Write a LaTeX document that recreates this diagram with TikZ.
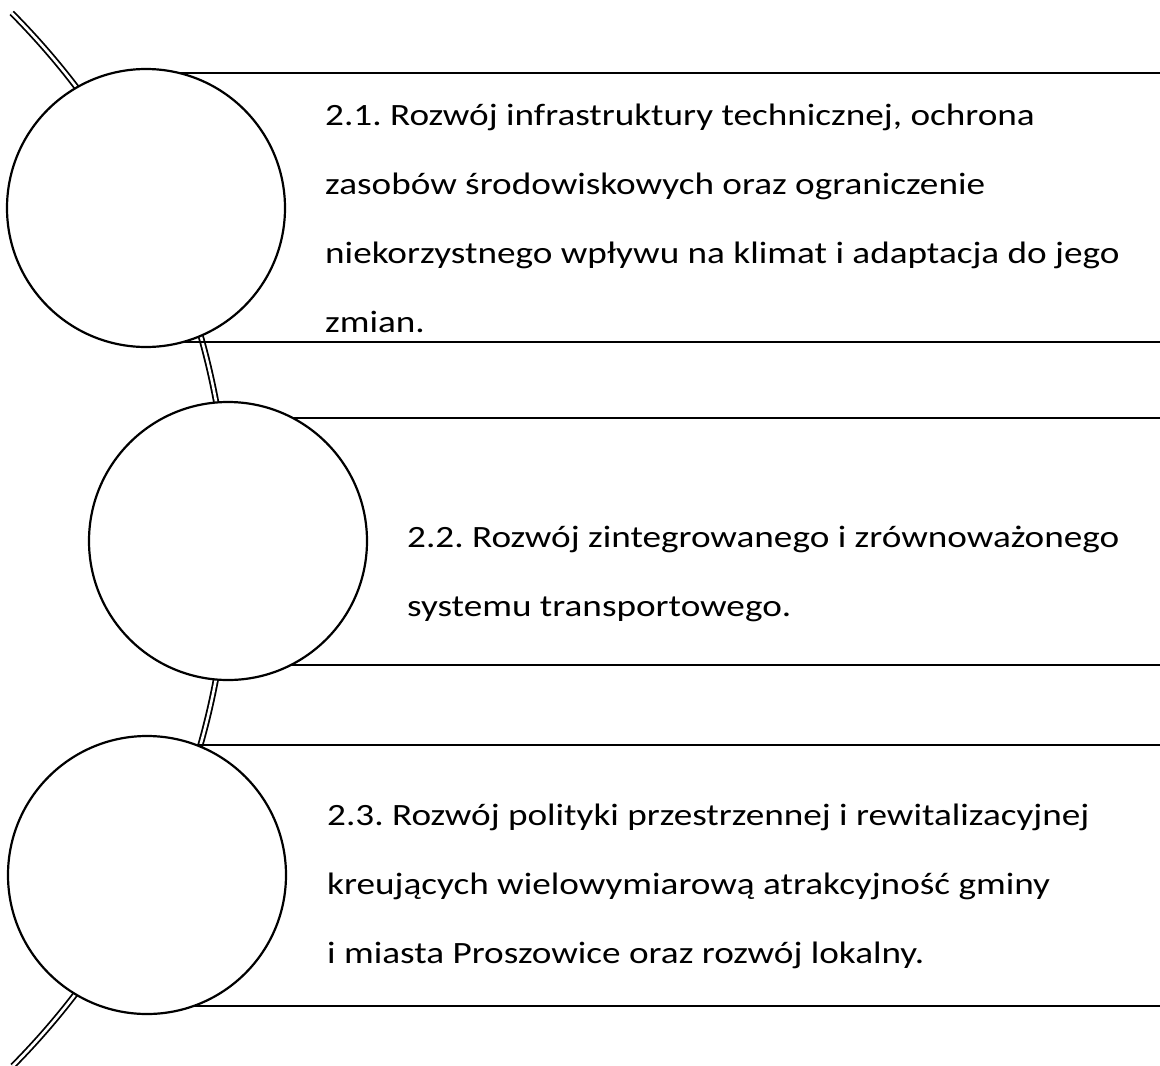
\documentclass[tikz,border=0pt]{standalone}
\usepackage{fontspec}
\setmainfont{Carlito}
\newfontfamily\goalfont{Carlito}[FakeStretch=1.2]
\usetikzlibrary{positioning}

\tikzset{
  stage/.style={circle, draw, line width=2.2pt, fill=white, minimum size=278pt, inner sep=0pt},
  band/.style={line width=2.2pt},
  spine/.style={double, double distance=2.6pt, line width=1.8pt},
  goal/.style={anchor=north west, inner sep=0pt, align=left, font=\goalfont\fontsize{31}{69}\selectfont\frenchspacing},
}

\begin{document}
\begin{tikzpicture}[x=1pt, y=-1pt]
    \useasboundingbox (0,0) rectangle (1160,1066);
    % curved spine behind the circles
    \draw[spine] (-519,540) ++(-44.8:748) arc[start angle=-44.8, end angle=44.7, radius=748];
    % bands
    \draw[band] (146,73) -- (1160,73);
    \draw[band] (146,342) -- (1160,342);
    \draw[band] (228,418) -- (1160,418);
    \draw[band] (228,665) -- (1160,665);
    \draw[band] (147,745) -- (1160,745);
    \draw[band] (147,1006) -- (1160,1006);
    % circles
    \node[stage] (c1) at (146,208) {};
    \node[stage] (c2) at (228,541) {};
    \node[stage] (c3) at (147,875) {};
    % texts
    \node[goal] (t1) at (325,76.7) {\strut 2.1. Rozwój infrastruktury technicznej, ochrona\\
        zasobów środowiskowych oraz ograniczenie\\
        niekorzystnego wpływu na klimat i adaptacja do jego\\
        zmian.};
    \node[goal] (t2) at (407,498.7) {\strut 2.2. Rozwój zintegrowanego i zrównoważonego\\
        systemu transportowego.};
    \node[goal] (t3) at (327,776.7) {\strut 2.3. Rozwój polityki przestrzennej i rewitalizacyjnej\\
        kreujących wielowymiarową atrakcyjność gminy\\
        i miasta Proszowice oraz rozwój lokalny.};
\end{tikzpicture}
\end{document}
